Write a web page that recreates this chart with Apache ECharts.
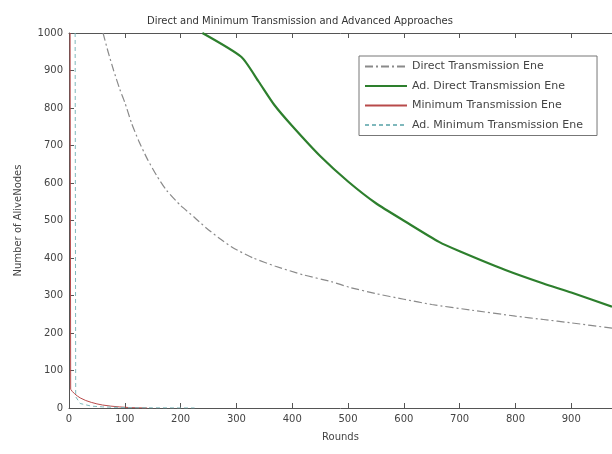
<!DOCTYPE html>
<html><head><meta charset="utf-8">
<script src="https://cdn.jsdelivr.net/npm/echarts@6/dist/echarts.min.js"></script>
<style>html,body{margin:0;padding:0;background:#fff}#c{width:612px;height:454px}</style>
</head><body><div id="c"></div>
<script>
const titleText = 'Direct and Minimum Transmission and Advanced Approaches';
const xName = 'Rounds';
const yName = 'Number of AliveNodes';
const seriesNames = ['Direct Transmission Ene','Ad. Direct Transmission Ene','Minimum Transmission Ene','Ad. Minimum Transmission Ene'];

const directX = [61,70,80,91,100,112,125,140,157,175,200,225,246,270,293,330,370,420,470,502,550,600,650,721,800,850,900,973];
const directY = [1000,950,900,850,815,760,712,665,620,580,540,508,480,452,428,400,378,355,337,322,305,290,276,261,245,236,227,213];

const adDirectX = [239,309,340,368,400,450,500,550,604,663,700,782,850,900,973];
const adDirectY = [1000,936,870,808,752,672,604,546,496,443,418,368,332,308,270];

const minX = [2,2,3,6,10,15,20,30,40,50,60,75,90,110,140];
const minY = [1000,1000,50,44,38,32,27,20,15,11,8,5,3,1,0];

const adMinX = [11,12,20,40,60,100,150,225];
const adMinY = [1000,30,12,5,3,1,0.5,0];

const zip = (xs, ys) => xs.map((x, i) => [x, ys[i]]);
const font = 'DejaVu Sans, Liberation Sans, sans-serif';

const chart = echarts.init(document.getElementById('c'), null, {renderer: 'canvas'});
const axisLineStyle = {color: '#555', width: 1};
chart.setOption({
  animation: false,
  backgroundColor: '#fff',
  title: {text: titleText, left: 142, top: 11, textStyle: {fontFamily: font, fontSize: 10, fontWeight: 'normal', color: '#333'}},
  grid: {left: 69, right: 0, top: 33, bottom: 46, containLabel: false},
  legend: {
    orient: 'vertical', left: 359, top: 56,
    backgroundColor: '#fff', borderColor: '#777', borderWidth: 1,
    padding: [5, 14, 5, 5], itemWidth: 42, itemHeight: 10, itemGap: 8.5,
    itemStyle: {opacity: 0},
    textStyle: {fontFamily: font, fontSize: 11, color: '#444'},
    data: seriesNames
  },
  xAxis: [{
    type: 'value', min: 0, max: 973, interval: 100,
    name: xName, nameLocation: 'middle', nameGap: 24,
    nameTextStyle: {fontFamily: font, fontSize: 10, color: '#444'},
    axisLine: {show: true, lineStyle: axisLineStyle},
    axisTick: {show: true, inside: true, length: 5, lineStyle: axisLineStyle},
    axisLabel: {fontFamily: font, fontSize: 10, color: '#444', margin: 6, showMaxLabel: false},
    splitLine: {show: false}
  }, {
    type: 'value', position: 'top', min: 0, max: 973, interval: 100,
    axisLine: {show: true, lineStyle: axisLineStyle},
    axisTick: {show: true, inside: true, length: 5, lineStyle: axisLineStyle},
    axisLabel: {show: false}, splitLine: {show: false}
  }],
  yAxis: [{
    type: 'value', min: 0, max: 1000, interval: 100,
    name: yName, nameLocation: 'middle', nameGap: 46, nameRotate: 90,
    nameTextStyle: {fontFamily: font, fontSize: 10, color: '#444'},
    axisLine: {show: true, onZero: false, lineStyle: axisLineStyle},
    axisTick: {show: true, inside: true, length: 5, lineStyle: axisLineStyle},
    axisLabel: {fontFamily: font, fontSize: 10, color: '#444', margin: 6, formatter: v => String(v)},
    splitLine: {show: false}
  }],
  series: [
    {name: seriesNames[0], type: 'line', xAxisIndex: 0, symbol: 'none', smooth: 0.2, data: zip(directX, directY),
     lineStyle: {color: '#8a8a8a', width: 1.2, type: [8, 3, 2, 3]}, itemStyle: {color: '#8a8a8a'}},
    {name: seriesNames[1], type: 'line', xAxisIndex: 0, symbol: 'none', smooth: 0.2, data: zip(adDirectX, adDirectY),
     lineStyle: {color: '#2d7f2d', width: 2.2}, itemStyle: {color: '#2d7f2d'}},
    {name: seriesNames[2], type: 'line', xAxisIndex: 0, symbol: 'none', data: zip(minX, minY),
     lineStyle: {color: '#b84a4a', width: 1}, itemStyle: {color: '#b84a4a'}},
    {name: seriesNames[3], type: 'line', xAxisIndex: 0, symbol: 'none', data: zip(adMinX, adMinY),
     lineStyle: {color: '#7fb8bc', width: 1, type: [4, 3]}, itemStyle: {color: '#7fb8bc'}}
  ]
});
</script></body></html>
